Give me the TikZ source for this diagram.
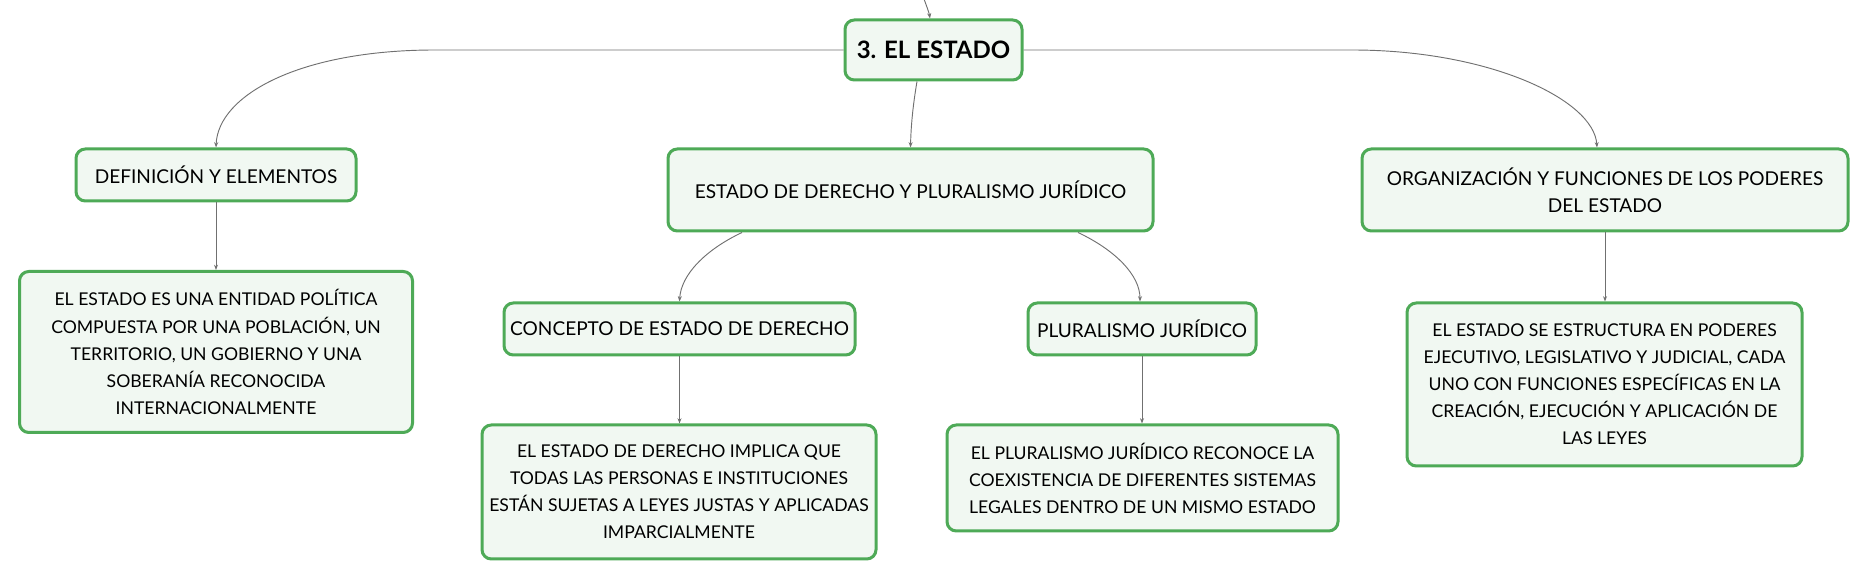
\documentclass[tikz,border=0pt]{standalone}
\usepackage{fontspec}
\setmainfont{Lato}
\usetikzlibrary{arrows.meta}
\definecolor{boxgreen}{HTML}{4EAA57}
\definecolor{boxfill}{HTML}{F1F8F2}
\definecolor{linegray}{HTML}{707070}
\tikzset{
  box/.style={draw=boxgreen, line width=2.25pt, fill=boxfill, rounded corners=7pt,
    inner sep=0pt, align=center, text=black},
  titlefont/.style={font=\fontsize{14.3}{20}\selectfont},
  bodyfont/.style={font=\fontsize{13.2}{20.3}\selectfont},
  conn/.style={draw=linegray, line width=0.7pt, -{Stealth[length=4pt,width=3pt]}},
}
\begin{document}
\begin{tikzpicture}[x=0.75pt, y=-0.75pt]
\useasboundingbox (0,0) rectangle (1868,580);

\node[box, minimum width=132.75pt, minimum height=45pt,
  font=\fontsize{18}{22}\selectfont\bfseries] (root) at (933.5,50) {3. EL ESTADO};

\node[box, titlefont, minimum width=210pt, minimum height=39pt] (def) at (216,175) {DEFINICIÓN Y ELEMENTOS};
\node[box, bodyfont, minimum width=294.75pt, minimum height=120.75pt] (t1) at (216,352)
  {EL ESTADO ES UNA ENTIDAD POLÍTICA\\COMPUESTA POR UNA POBLACIÓN, UN\\TERRITORIO, UN GOBIERNO Y UNA\\SOBERANÍA RECONOCIDA\\INTERNACIONALMENTE};

\node[box, titlefont, minimum width=363.75pt, minimum height=61.5pt] (edo) at (910.5,190) {ESTADO DE DERECHO Y PLURALISMO JURÍDICO};
\node[box, titlefont, minimum width=263.25pt, minimum height=39pt] (conc) at (679.5,329) {CONCEPTO DE ESTADO DE DERECHO};
\node[box, bodyfont, minimum width=295.5pt, minimum height=100.5pt] (t2) at (679,492)
  {EL ESTADO DE DERECHO IMPLICA QUE\\TODAS LAS PERSONAS E INSTITUCIONES\\ESTÁN SUJETAS A LEYES JUSTAS Y APLICADAS\\IMPARCIALMENTE};
\node[box, titlefont, minimum width=171pt, minimum height=39pt] (plur) at (1142,329) {PLURALISMO JURÍDICO};
\node[box, bodyfont, minimum width=293.25pt, minimum height=79.5pt] (t3) at (1142.5,478)
  {EL PLURALISMO JURÍDICO RECONOCE LA\\COEXISTENCIA DE DIFERENTES SISTEMAS\\LEGALES DENTRO DE UN MISMO ESTADO};

\node[box, titlefont, minimum width=364.5pt, minimum height=61.5pt] (org) at (1605,190) {ORGANIZACIÓN Y FUNCIONES DE LOS PODERES\\DEL ESTADO};
\node[box, bodyfont, minimum width=296.25pt, minimum height=122.25pt] (t4) at (1604.5,384.5)
  {EL ESTADO SE ESTRUCTURA EN PODERES\\EJECUTIVO, LEGISLATIVO Y JUDICIAL, CADA\\UNO CON FUNCIONES ESPECÍFICAS EN LA\\CREACIÓN, EJECUCIÓN Y APLICACIÓN DE\\LAS LEYES};

\coordinate (topin) at (923,-4);
\draw[conn] (topin) .. controls (926,5) and (929,12) .. (root.north -| 930,0);

\draw[conn] (root.west) -- (435,50) .. controls (300,50) and (218,95) .. (def.north);
\draw[conn] (root.east) -- (1352,50) .. controls (1490,50) and (1594,100) .. (org.north -| 1597,0);
\draw[conn] (root.south -| 917,0) .. controls (913,105) and (911,125) .. (edo.north);

\draw[conn] (edo.south -| 742,0) .. controls (705,250) and (681,275) .. (conc.north);
\draw[conn] (edo.south -| 1078,0) .. controls (1115,250) and (1140,275) .. (plur.north -| 1140,0);

\draw[conn] (def.south) -- (t1.north -| def.south);
\draw[conn] (conc.south) -- (t2.north -| conc.south);
\draw[conn] (plur.south) -- (t3.north -| plur.south);
\draw[conn] (org.south) -- (t4.north -| org.south);
\end{tikzpicture}
\end{document}
